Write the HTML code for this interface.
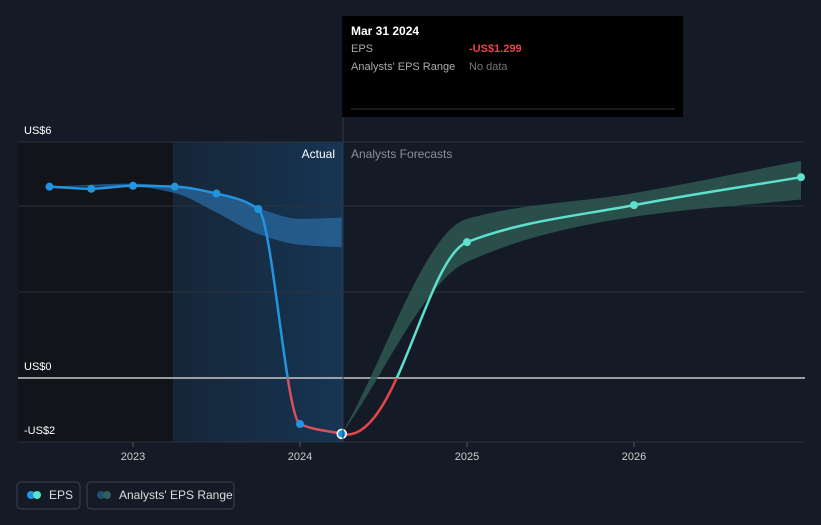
<!DOCTYPE html>
<html><head><meta charset="utf-8"><style>
body{margin:0;background:#151b26;font-family:"Liberation Sans",sans-serif;}
svg text{font-family:"Liberation Sans",sans-serif;}
</style></head><body>
<svg id="chart" width="821" height="520" xmlns="http://www.w3.org/2000/svg">
<defs>
<linearGradient id="pastGrad" x1="0" x2="1" y1="0" y2="0"><stop offset="0" stop-color="#16314a" stop-opacity="0.5"/><stop offset="1" stop-color="#17385a" stop-opacity="0.9"/></linearGradient>
<clipPath id="above"><rect x="0" y="0" width="821" height="378"/></clipPath>
<clipPath id="below"><rect x="0" y="378" width="821" height="142"/></clipPath>
</defs>
<rect width="821" height="520" fill="#151b26"/>
<rect x="18" y="142" width="155" height="300" fill="#111419"/>
<rect x="173" y="142" width="170" height="300" fill="url(#pastGrad)"/>
<g id="grid"></g>
<g id="marks"></g>
<text x="335" y="158" fill="#ffffff" font-size="12" text-anchor="end">Actual</text>
<text x="351" y="158" fill="#8a8f98" font-size="12">Analysts Forecasts</text>
<line x1="343" y1="16" x2="343" y2="442" stroke="#2a3a4c" stroke-width="1"/>
<g>
<rect x="342" y="16" width="341" height="101" fill="#000"/>
<text x="351" y="35" fill="#fff" font-size="12" font-weight="bold">Mar 31 2024</text>
<text x="351" y="52" fill="#aaa" font-size="11">EPS</text>
<text x="469" y="52" fill="#e8454a" font-size="11" font-weight="bold">-US$1.299</text>
<text x="351" y="70" fill="#aaa" font-size="11">Analysts' EPS Range</text>
<text x="469" y="70" fill="#777" font-size="11">No data</text>
<line x1="351" y1="109" x2="675" y2="109" stroke="#333"/>
</g>
<g>
<rect x="17" y="482" width="63" height="27" rx="4" fill="none" stroke="#3a4250"/>
<circle cx="31" cy="495" r="4" fill="#2394df"/><circle cx="37" cy="495" r="4" fill="#5ee0cf"/>
<text x="49" y="499" fill="#ddd" font-size="12">EPS</text>
<rect x="87" y="482" width="147" height="27" rx="4" fill="none" stroke="#3a4250"/>
<circle cx="101" cy="495" r="4" fill="#1f4d73"/><circle cx="107" cy="495" r="4" fill="#2e5f5a"/>
<text x="119" y="499" fill="#ddd" font-size="12">Analysts' EPS Range</text>
</g>
</svg>
<script>
const yTickVals=[6,4,2,0,-1.5];
const yTickLabels=["US$6","","","US$0","-US$2"];
const xTicks=[2023,2024,2025,2026];
const pastT=[2022.5,2022.75,2023.0,2023.25,2023.5,2023.75,2024.0,2024.25];
const pastEPS=[4.45,4.40,4.47,4.45,4.29,3.93,-1.07,-1.299];
const pastBandT=[2022.5,2023.0,2023.25,2023.5,2023.75,2024.0,2024.25];
const pastBandHi=[4.45,4.52,4.45,4.30,3.95,3.70,3.73];
const pastBandLo=[4.45,4.45,4.30,3.85,3.35,3.10,3.04];
const fcT=[2024.25,2025.0,2026.0,2027.0];
const fcEPS=[-1.299,3.16,4.02,4.67];
const fcBandHi=[-1.299,3.70,4.30,5.05];
const fcBandLo=[-1.299,2.70,3.75,4.15];
const X=t=>133+(t-2023)*167;
const Y=v=>378-v*43;
const ns="http://www.w3.org/2000/svg";
function mk(tag,attrs,parent){const e=document.createElementNS(ns,tag);for(const k in attrs)e.setAttribute(k,attrs[k]);parent.appendChild(e);return e;}
function curve(ts,vs,flatStart,flatEnd){const p=ts.map((t,i)=>[X(t),Y(vs[i])]);const n=p.length;
 const m=[];for(let i=0;i<n;i++){if(i==0)m.push((p[1][1]-p[0][1])/(p[1][0]-p[0][0]));else if(i==n-1)m.push((p[i][1]-p[i-1][1])/(p[i][0]-p[i-1][0]));else{const a=(p[i][1]-p[i-1][1])/(p[i][0]-p[i-1][0]),b=(p[i+1][1]-p[i][1])/(p[i+1][0]-p[i][0]);m.push(a*b<=0?0:2/(1/a+1/b));}}
 if(flatStart)m[0]=0.25;if(flatEnd)m[n-1]=-0.25;
 let d="M"+p[0][0]+","+p[0][1];for(let i=0;i<n-1;i++){const h=(p[i+1][0]-p[i][0])/3;let k=(i==0&&flatStart)||(i==n-2&&flatEnd)?1.25:1;const h0=(i==0&&flatStart)?h*1.3:h,h1=(i==n-2&&flatEnd)?h*1.3:h;
 d+=" C"+(p[i][0]+h0)+","+(p[i][1]+m[i]*h0)+" "+(p[i+1][0]-h1)+","+(p[i+1][1]-m[i+1]*h1)+" "+p[i+1][0]+","+p[i+1][1];}return d;}
function band(ts,hi,lo,fs){const a=curve(ts,hi,fs,false);const rt=ts.slice().reverse(),rl=lo.slice().reverse();const b=curve(rt,rl,false,fs).replace(/^M/,"L");return a+" "+b+" Z";}
const grid=document.getElementById('grid'),marks=document.getElementById('marks');
yTickVals.forEach((v,i)=>{const y=i==0?142:(i==4?442:Y(v));
 const l=mk('line',{x1:18,x2:805,y1:y,y2:y,stroke:v==0?'#c8c8c8':'#2c323d','stroke-width':v==0?1.5:1},grid);
 
 if(yTickLabels[i]){const t=mk('text',{x:24,y:i==4?434:y-8,fill:'#fff','font-size':11},grid);t.textContent=yTickLabels[i];
 }});
xTicks.forEach(v=>{const x=X(v);mk('line',{x1:x,x2:x,y1:442,y2:447,stroke:'#555'},grid);
 const t=mk('text',{x:x,y:460,fill:'#ccc','font-size':11,'text-anchor':'middle'},grid);t.textContent=v;
 });
let e=mk('path',{d:band(pastBandT,pastBandHi,pastBandLo,false),fill:'#2a6aa0','fill-opacity':0.75},marks);

e=mk('path',{d:band(fcT,fcBandHi,fcBandLo,false),fill:'#2e5852','fill-opacity':0.85},marks);

const pd=curve(pastT,pastEPS,false,false),fd=curve(fcT,fcEPS,true,false);
e=mk('path',{d:pd,fill:'none',stroke:'#2394df','stroke-width':2.5,'clip-path':'url(#above)'},marks);

e=mk('path',{d:pd,fill:'none',stroke:'#d9505a','stroke-width':2.5,'clip-path':'url(#below)'},marks);

e=mk('path',{d:fd,fill:'none',stroke:'#5ee0cf','stroke-width':2.5,'clip-path':'url(#above)'},marks);

e=mk('path',{d:fd,fill:'none',stroke:'#e8454a','stroke-width':2.5,'clip-path':'url(#below)'},marks);

pastT.forEach((t,i)=>{const last=i==pastT.length-1;
 const c=mk('circle',{cx:X(t),cy:Y(pastEPS[i]),r:last?4.5:4,fill:'#2394df',stroke:last?'#fff':'none','stroke-width':1.5},marks);
 });
fcT.slice(1).forEach((t,i)=>{const c=mk('circle',{cx:Math.min(X(t),803),cy:Y(fcEPS[i+1]),r:4,fill:'#5ee0cf'},marks);
 });
</script>
</body></html>
